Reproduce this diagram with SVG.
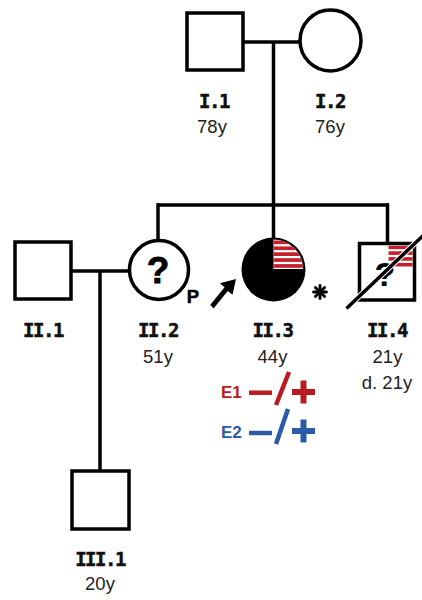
<svg xmlns="http://www.w3.org/2000/svg" width="422" height="600" viewBox="0 0 422 600">
<defs>
<style>
.ln{stroke:#000;stroke-width:3.5;fill:none}
.sym{stroke:#000;stroke-width:3.5;fill:#fff}
.id{font-family:"DejaVu Sans Mono",monospace;font-weight:bold;font-size:19px;letter-spacing:-1.5px;fill:#111;stroke:#111;stroke-width:0.5;text-anchor:middle}
.age{font-family:"Liberation Sans",Arial,sans-serif;font-size:18.5px;fill:#222;text-anchor:middle}
.q{font-family:"Liberation Sans",Arial,sans-serif;font-weight:bold;fill:#000;text-anchor:middle}
.red{fill:#c4202a}
.e1{stroke:#b81c22;fill:none}
.e2{stroke:#2b5aa6;fill:none}
.et{font-family:"Liberation Sans",Arial,sans-serif;font-weight:bold;font-size:17px}
</style>
<clipPath id="q3"><path d="M273.5,269 L273.5,239.5 A29.5,29.5 0 0 1 303,269 Z"/></clipPath>
<clipPath id="q4"><rect x="388.5" y="245.5" width="24" height="25"/></clipPath>
</defs>
<g id="connectors">
<line class="ln" x1="243" y1="42" x2="300" y2="42"/>
<line class="ln" x1="273.5" y1="42" x2="273.5" y2="205"/>
<line class="ln" x1="157" y1="205" x2="389" y2="205"/>
<line class="ln" x1="158" y1="203.3" x2="158" y2="240"/>
<line class="ln" x1="273.5" y1="205" x2="273.5" y2="238"/>
<line class="ln" x1="387.5" y1="203.3" x2="387.5" y2="244"/>
<line class="ln" x1="71" y1="271" x2="129" y2="271"/>
<line class="ln" x1="100" y1="271" x2="100" y2="471"/>
</g>
<g id="I1">
<rect class="sym" x="187" y="13" width="56" height="57"/>
<text class="id" x="214" y="108">I.1</text>
<text class="age" x="212" y="133">78y</text>
</g>
<g id="I2">
<circle class="sym" cx="330.5" cy="40.5" r="30.5"/>
<text class="id" x="330" y="108">I.2</text>
<text class="age" x="330" y="133">76y</text>
</g>
<g id="II1">
<rect class="sym" x="15" y="242" width="56" height="57"/>
<text class="id" x="43" y="337">II.1</text>
</g>
<g id="II2">
<circle class="sym" cx="159" cy="270" r="29.5"/>
<text class="q" x="158" y="283" font-size="37" stroke="#000" stroke-width="0.8">?</text>
<text class="q" x="193" y="302.5" font-size="18.5" stroke="#000" stroke-width="0.5">P</text>
<polygon points="210.3,304.8 224.6,287.2 219.9,283.3 236,279 232.5,294.8 227.8,290.9 213.5,308.4" fill="#000"/>
<text class="id" x="158" y="337">II.2</text>
<text class="age" x="158" y="363">51y</text>
</g>
<g id="II3">
<circle cx="273.5" cy="269.5" r="32" fill="#000"/>
<path d="M273.5,269 L273.5,239.5 A29.5,29.5 0 0 1 303,269 Z" fill="#fff"/>
<g clip-path="url(#q3)" class="red">
<rect x="273" y="240.5" width="32" height="3.7"/>
<rect x="273" y="246.4" width="32" height="3.7"/>
<rect x="273" y="252.3" width="32" height="3.7"/>
<rect x="273" y="258.2" width="32" height="3.7"/>
<rect x="273" y="264.1" width="32" height="3.7"/>
</g>
<g stroke="#000" stroke-width="2.8" stroke-linecap="round">
<line x1="320" y1="285.5" x2="320" y2="298.5"/>
<line x1="313.5" y1="292" x2="326.5" y2="292"/>
<line x1="315.4" y1="287.4" x2="324.6" y2="296.6"/>
<line x1="315.4" y1="296.6" x2="324.6" y2="287.4"/>
</g>
<text class="id" x="272.5" y="337">II.3</text>
<text class="age" x="272.5" y="363">44y</text>
</g>
<g id="II4">
<rect class="sym" x="359.5" y="243.5" width="55" height="56.5"/>
<g clip-path="url(#q4)" class="red">
<rect x="388" y="245.5" width="26" height="3.6"/>
<rect x="388" y="251.3" width="26" height="3.6"/>
<rect x="388" y="257.1" width="26" height="3.6"/>
<rect x="388" y="262.9" width="26" height="3.6"/>
</g>
<text class="q" x="385" y="285.5" font-size="34" stroke="#fff" stroke-width="2.5" paint-order="stroke">?</text>
<line x1="346.5" y1="308.5" x2="430" y2="229" stroke="#fff" stroke-width="5.5"/>
<line x1="346.5" y1="308.5" x2="430" y2="229" stroke="#000" stroke-width="3.5"/>
<text class="id" x="387" y="337">II.4</text>
<text class="age" x="387.5" y="363">21y</text>
<text class="age" x="387" y="389">d. 21y</text>
</g>
<g id="E1">
<text class="et" x="221" y="397.5" fill="#b81c22">E1</text>
<line class="e1" x1="249" y1="392.7" x2="272" y2="392.7" stroke-width="4.5"/>
<line class="e1" x1="276" y1="405" x2="289" y2="372" stroke-width="4.5"/>
<line class="e1" x1="292" y1="392" x2="315" y2="392" stroke-width="6"/>
<line class="e1" x1="303.5" y1="380.5" x2="303.5" y2="403.5" stroke-width="6"/>
</g>
<g id="E2">
<text class="et" x="221" y="437.5" fill="#2b5aa6">E2</text>
<line class="e2" x1="249" y1="433" x2="272" y2="433" stroke-width="4.5"/>
<line class="e2" x1="276" y1="444" x2="288" y2="409" stroke-width="4.5"/>
<line class="e2" x1="292" y1="431" x2="315" y2="431" stroke-width="6"/>
<line class="e2" x1="303.5" y1="419.5" x2="303.5" y2="442.5" stroke-width="6"/>
</g>
<g id="III1">
<rect class="sym" x="72" y="471" width="57" height="58"/>
<text class="id" x="100" y="566">III.1</text>
<text class="age" x="100" y="590">20y</text>
</g>
</svg>
